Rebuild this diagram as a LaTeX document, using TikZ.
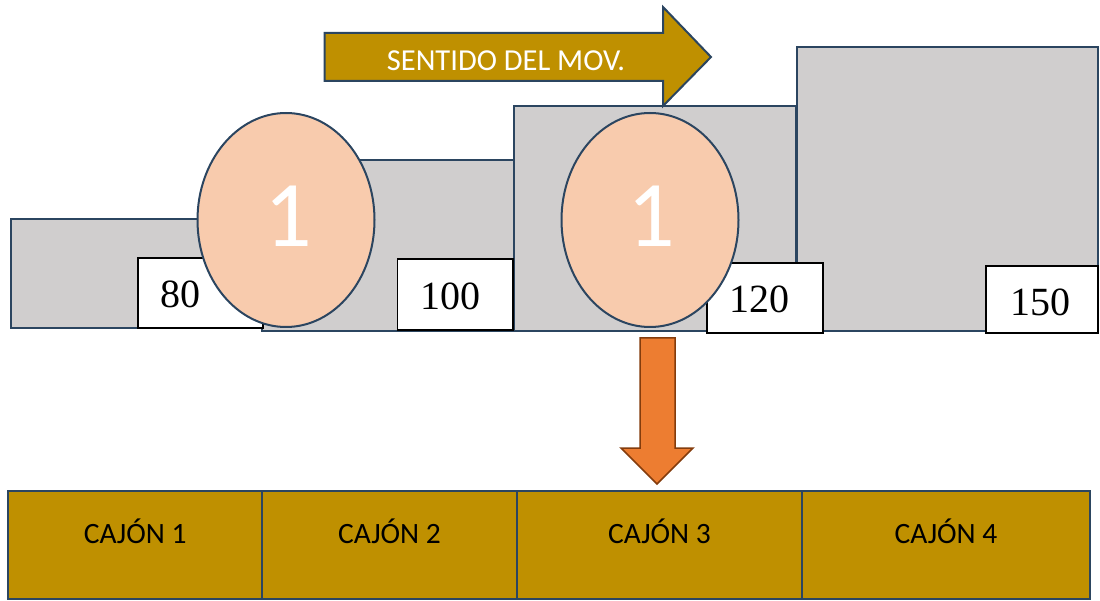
\documentclass[tikz,border=0pt]{standalone}
\usepackage{fontspec}
\setmainfont{Liberation Serif}
\newfontfamily\calib{Carlito}
\definecolor{edge}{HTML}{2B4560}
\definecolor{block}{HTML}{D0CECE}
\definecolor{egg}{HTML}{F8CBAD}
\definecolor{gold}{HTML}{BF9000}
\definecolor{orng}{HTML}{ED7D31}
\definecolor{orngedge}{HTML}{843C0C}
\tikzset{
  blockbox/.style={draw=edge, fill=block, line width=2pt, rectangle, inner sep=0pt},
  valbox/.style={draw=black, fill=white, line width=1.6pt, rectangle, inner sep=0pt},
  valtxt/.style={anchor=base, inner sep=0pt, font=\fontsize{40}{40}\selectfont},
  eggnode/.style={draw=edge, fill=egg, line width=2pt, ellipse, inner sep=0pt, minimum width=177pt, minimum height=214pt},
  eggtxt/.style={anchor=base, inner sep=0pt, text=white, font=\calib\fontsize{94}{94}\selectfont},
  drawer/.style={draw=edge, fill=gold, line width=2pt, rectangle, inner sep=0pt, minimum height=108pt},
  drawertxt/.style={anchor=base, inner sep=0pt, font=\calib\fontsize{29.5}{29.5}\selectfont},
}
\usetikzlibrary{shapes.geometric}
\begin{document}
\begin{tikzpicture}[x=1pt,y=-1pt]
\useasboundingbox (0,0) rectangle (1100,601);
% steps
\node[blockbox, minimum width=251.5pt, minimum height=109pt] (r1) at (136.25,273.5) {};
\node[blockbox, minimum width=253pt, minimum height=171pt] (r2) at (388.5,245.5) {};
\node[blockbox, minimum width=282pt, minimum height=225pt] (r3) at (655,218.5) {};
\node[blockbox, minimum width=301pt, minimum height=284pt] (r4) at (947.5,189) {};
% value boxes
\node[valbox, minimum width=125pt, minimum height=70pt] (b80) at (200.5,293) {};
\node[valbox, minimum width=115.5pt, minimum height=71pt] (b100) at (455.25,294.5) {};
\node[valbox, minimum width=116pt, minimum height=70pt] (b120) at (765,298) {};
\node[valbox, minimum width=112pt, minimum height=67pt] (b150) at (1042,299.5) {};
\node[valtxt] (t80) at (180.5,308) {80};
\node[valtxt] (t100) at (450.5,310) {100};
\node[valtxt] (t120) at (759.5,313) {120};
\node[valtxt] (t150) at (1040,316) {150};
% eggs
\node[eggnode] (e1) at (286,220) {};
\node[eggnode] (e2) at (650,220) {};
\node[eggtxt] (n1) at (288,247) {1};
\node[eggtxt] (n2) at (651.5,247) {1};
% direction arrow
\draw[draw=edge, fill=gold, line width=2pt, line join=miter]
  (324.5,33) -- (663,33) -- (663,7) -- (711,57) -- (663,106) -- (663,81) -- (324.5,81) -- cycle;
\node[anchor=base, inner sep=0pt, text=white, font=\calib\fontsize{30.5}{30.5}\selectfont] (mov) at (506,71) {SENTIDO DEL MOV.};
% down arrow
\draw[draw=orngedge, fill=orng, line width=1.5pt, line join=miter]
  (640,338) -- (675,338) -- (675,448) -- (693,448) -- (657,484) -- (621,448) -- (640,448) -- cycle;
% drawers
\node[drawer, minimum width=253.6pt] (c1) at (135.2,545) {};
\node[drawer, minimum width=255pt] (c2) at (389.5,545) {};
\node[drawer, minimum width=285pt] (c3) at (659.5,545) {};
\node[drawer, minimum width=288pt] (c4) at (946,545) {};
\node[drawertxt] (ct1) at (135.2,543) {CAJÓN 1};
\node[drawertxt] (ct2) at (389.5,543) {CAJÓN 2};
\node[drawertxt] (ct3) at (659.5,543) {CAJÓN 3};
\node[drawertxt] (ct4) at (946,543) {CAJÓN 4};
\end{tikzpicture}
\end{document}
